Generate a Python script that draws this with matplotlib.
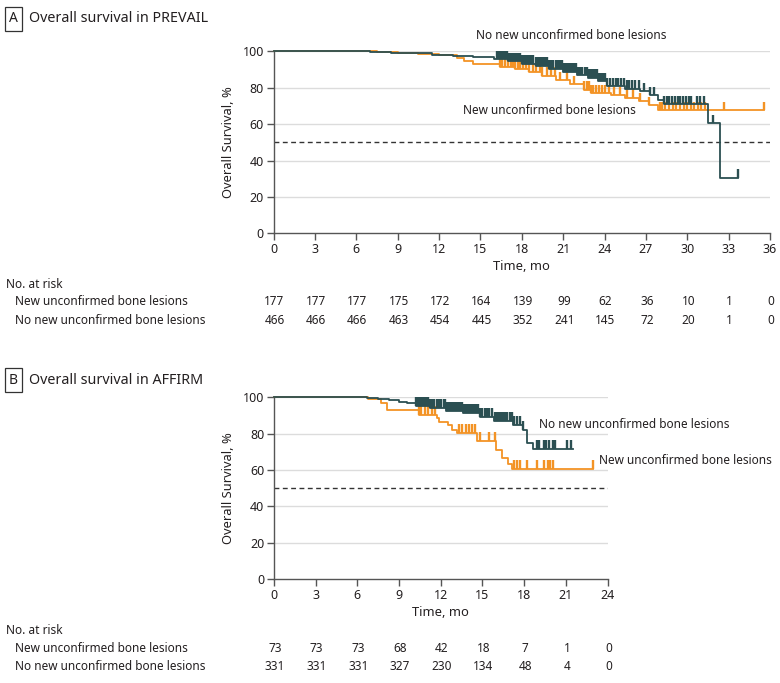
import numpy as np
import matplotlib
matplotlib.use("Agg")
import matplotlib.pyplot as plt

plt.rcParams['font.family'] = ['Noto Sans', 'DejaVu Sans']

DARK = '#2b4f52'
ORANGE = '#f39325'
GRID = '#dcdcdc'
TEXT = '#231f20'
FS = 8.5

# ---- Panel A: PREVAIL ----
a_none_t = [0, 7.0, 8.5, 10.0, 11.5, 13.0, 14.5, 16.0, 17.0, 18.0, 19.0, 20.0, 21.0, 22.0,
            22.8, 23.5, 24.2, 25.5, 26.6, 27.3, 27.9, 28.3, 31.5, 32.4]
a_none_s = [100, 99.7, 99.3, 98.8, 98.2, 97.5, 96.6, 95.5, 94.5, 93.2, 92.0, 90.5, 88.8, 87.0,
            85.5, 83.5, 81.0, 79.5, 78.0, 76.0, 73.5, 71.0, 60.5, 30.5]
a_none_end = 33.7
a_none_cens = [16.2, 16.3, 16.4, 16.5, 16.6, 16.7, 16.8, 16.9, 17.0, 17.1, 17.2, 17.3, 17.4, 17.5,
               17.6, 17.7, 17.8, 17.9, 18.0, 18.1, 18.2, 18.3, 18.4, 18.5, 18.6, 18.7, 18.85, 19.0,
               19.1, 19.2, 19.3, 19.45, 19.6, 19.7, 19.85, 20.0, 20.15, 20.3, 20.45, 20.6, 20.75,
               20.9, 21.05, 21.2, 21.35, 21.5, 21.65, 21.8, 21.95, 22.1, 22.25, 22.4, 22.55, 22.7,
               22.85, 23.0, 23.15, 23.3, 23.45, 23.6, 23.75, 23.9, 24.05, 24.2, 24.4, 24.6, 24.8,
               25.0, 25.2, 25.4, 25.6, 25.8, 26.0, 26.2, 26.5, 26.9, 27.3, 27.6, 28.3, 28.5, 28.7,
               28.9, 29.1, 29.3, 29.5, 29.7, 29.9, 30.1, 30.3, 30.7, 30.9, 31.2, 31.9, 33.7]

a_new_t = [0, 7.5, 9.0, 10.5, 12.0, 13.3, 13.8, 14.5, 16.4, 17.5, 18.5, 19.5, 20.5, 21.5, 22.5,
           23.0, 24.5, 25.5, 26.5, 27.2, 27.9]
a_new_s = [100, 99.6, 99.0, 98.5, 97.8, 96.5, 94.5, 93.2, 91.5, 90.0, 88.5, 86.5, 84.0, 82.0, 79.0,
           77.0, 76.0, 74.5, 72.5, 70.5, 67.5]
a_new_end = 35.6
a_new_cens = [16.4, 16.6, 16.8, 17.0, 17.2, 17.35, 17.5, 17.7, 17.9, 18.1, 18.3, 18.5, 18.8, 19.0,
              19.3, 19.5, 19.8, 20.1, 20.4, 20.8, 21.3, 21.8, 22.5, 22.7, 22.9, 23.0, 23.2, 23.4,
              23.6, 23.8, 24.0, 24.3, 24.7, 25.1, 25.6, 26.1, 26.6, 27.2, 28.0, 28.2, 28.4, 28.7,
              29.0, 29.2, 29.5, 29.8, 30.0, 30.3, 30.5, 30.8, 31.0, 31.3, 32.7, 35.6]

a_ticks = [0, 3, 6, 9, 12, 15, 18, 21, 24, 27, 30, 33, 36]
a_risk_new = [177, 177, 177, 175, 172, 164, 139, 99, 62, 36, 10, 1, 0]
a_risk_none = [466, 466, 466, 463, 454, 445, 352, 241, 145, 72, 20, 1, 0]

# ---- Panel B: AFFIRM ----
b_none_t = [0, 6.7, 7.5, 8.3, 9.0, 9.6, 10.2, 11.2, 12.4, 13.6, 14.8, 15.8, 17.2, 17.9, 18.2, 18.65]
b_none_s = [100, 99.5, 99.0, 98.4, 97.6, 96.6, 95.2, 93.9, 92.2, 91.2, 89.3, 86.8, 84.7, 82.0, 75.0, 71.6]
b_none_end = 21.5
b_none_cens = [10.2, 10.3, 10.45, 10.55, 10.7, 10.8, 10.95, 11.05, 11.2, 11.3, 11.45, 11.55, 11.7,
               11.8, 11.95, 12.05, 12.2, 12.3, 12.45, 12.55, 12.7, 12.8, 12.95, 13.05, 13.2, 13.3,
               13.45, 13.55, 13.7, 13.8, 13.95, 14.05, 14.2, 14.3, 14.45, 14.55, 14.7, 14.85, 15.0,
               15.2, 15.35, 15.5, 15.7, 15.9, 16.05, 16.2, 16.35, 16.5, 16.65, 16.8, 16.95, 17.1,
               17.3, 17.5, 17.7, 17.9, 18.9, 19.1, 19.4, 19.6, 19.8, 20.1, 20.2, 21.1, 21.4]

b_new_t = [0, 6.8, 7.7, 8.1, 10.4, 11.7, 11.9, 12.55, 12.8, 13.2, 14.6, 16.0, 16.4, 16.85, 17.1]
b_new_s = [100, 98.9, 96.7, 93.0, 90.2, 88.4, 86.6, 84.7, 82.0, 80.2, 75.9, 70.9, 66.4, 63.5, 60.4]
b_new_end = 22.95
b_new_cens = [10.4, 10.6, 10.85, 11.1, 11.35, 11.6, 13.3, 13.55, 13.8, 14.0, 14.25, 14.5, 14.85,
              15.5, 15.9, 17.25, 17.5, 17.7, 18.2, 18.9, 19.4, 19.7, 19.85, 20.1, 22.95]

b_ticks = [0, 3, 6, 9, 12, 15, 18, 21, 24]
b_risk_new = [73, 73, 73, 68, 42, 18, 7, 1, 0]
b_risk_none = [331, 331, 331, 327, 230, 134, 48, 4, 0]

W, H = 780, 683


def fx(px):
    return px / W


def fy(py):
    return 1 - py / H


def km(ax, t, s, end, cens, color, tick_h, z):
    tt = list(t) + [end]
    ss = list(s) + [s[-1]]
    ax.step(tt, ss, where='post', color=color, lw=1.3, clip_on=False, zorder=z)
    cens = np.asarray(cens)
    idx = np.searchsorted(np.asarray(t), cens, side='right') - 1
    base = np.asarray(s)[idx]
    ax.vlines(cens, base, base + tick_h, color=color, lw=1.7, zorder=z, clip_on=False)


def style_axes(ax, xticks, xmax):
    ax.set_xlim(0, xmax)
    ax.set_ylim(0, 100)
    ax.set_xticks(xticks)
    ax.set_yticks([0, 20, 40, 60, 80, 100])
    for v in [20, 40, 60, 80, 100]:
        ax.axhline(v, color=GRID, lw=1.0, zorder=1)
    ax.axhline(50, color='#333333', lw=1.0, ls=(0, (3.5, 2.5)), zorder=2)
    for sp in ['top', 'right']:
        ax.spines[sp].set_visible(False)
    for sp in ['left', 'bottom']:
        ax.spines[sp].set_color('#555555')
        ax.spines[sp].set_linewidth(1.0)
    ax.tick_params(axis='both', length=5, width=1.0, color='#555555',
                   labelsize=FS + 0.5, labelcolor=TEXT, pad=2)
    ax.set_ylabel('Overall Survival, %', fontsize=FS + 0.8, color=TEXT)
    ax.set_xlabel('Time, mo', fontsize=FS + 0.8, color=TEXT)


def panel_header(letter, title, py):
    fig.text(fx(13.5), fy(py), letter, fontsize=FS + 1.5, fontweight='bold', color=TEXT,
             ha='center', va='center',
             bbox=dict(boxstyle='square,pad=0.3', fc='white', ec='#333333', lw=0.9))
    fig.text(fx(29), fy(py), title, fontsize=FS + 1.8, color=TEXT, ha='left', va='center')


def risk_table(ax, xticks, new_vals, none_vals, py0):
    fig.text(fx(6), fy(py0), 'No. at risk', fontsize=FS, color=TEXT, va='center')
    fig.text(fx(15), fy(py0 + 18), 'New unconfirmed bone lesions', fontsize=FS, color=TEXT, va='center')
    fig.text(fx(15), fy(py0 + 36), 'No new unconfirmed bone lesions', fontsize=FS, color=TEXT, va='center')
    for x, a, b in zip(xticks, new_vals, none_vals):
        xp = ax.transData.transform((x, 0))[0]
        fig.text(fx(xp + 1), fy(py0 + 18), str(a), fontsize=FS, color=TEXT, ha='center', va='center')
        fig.text(fx(xp + 1), fy(py0 + 36), str(b), fontsize=FS, color=TEXT, ha='center', va='center')


fig = plt.figure(figsize=(7.8, 6.83), dpi=100)

# Panel A axes
axA = fig.add_axes([fx(273.5), fy(233.3), fx(770) - fx(273.5), fy(51.3) - fy(233.3)])
style_axes(axA, a_ticks, 36)
km(axA, a_new_t, a_new_s, a_new_end, a_new_cens, ORANGE, 4.6, 3)
km(axA, a_none_t, a_none_s, a_none_end, a_none_cens, DARK, 4.6, 4)
axA.yaxis.set_label_coords(-0.078, 0.5)
axA.xaxis.set_label_coords(0.5, -0.145)
axA.text(21.6, 108.5, 'No new unconfirmed bone lesions', fontsize=FS, color=TEXT,
         ha='center', va='center', clip_on=False)
axA.text(20.0, 67.6, 'New unconfirmed bone lesions', fontsize=FS, color=TEXT,
         ha='center', va='center')
panel_header('A', 'Overall survival in PREVAIL', 19)
risk_table(axA, a_ticks, a_risk_new, a_risk_none, 284)

# Panel B axes
axB = fig.add_axes([fx(274), fy(579), fx(607.5) - fx(274), fy(397.3) - fy(579)])
style_axes(axB, b_ticks, 24)
km(axB, b_new_t, b_new_s, b_new_end, b_new_cens, ORANGE, 5.0, 3)
km(axB, b_none_t, b_none_s, b_none_end, b_none_cens, DARK, 5.0, 4)
axB.yaxis.set_label_coords(-0.117, 0.5)
axB.xaxis.set_label_coords(0.5, -0.147)
axB.text(19.1, 85.0, 'No new unconfirmed bone lesions', fontsize=FS, color=TEXT,
         ha='left', va='center', clip_on=False)
axB.text(23.4, 65.2, 'New unconfirmed bone lesions', fontsize=FS, color=TEXT,
         ha='left', va='center', clip_on=False)
panel_header('B', 'Overall survival in AFFIRM', 380)
risk_table(axB, b_ticks, b_risk_new, b_risk_none, 630)

fig.savefig('out.png', dpi=100)
